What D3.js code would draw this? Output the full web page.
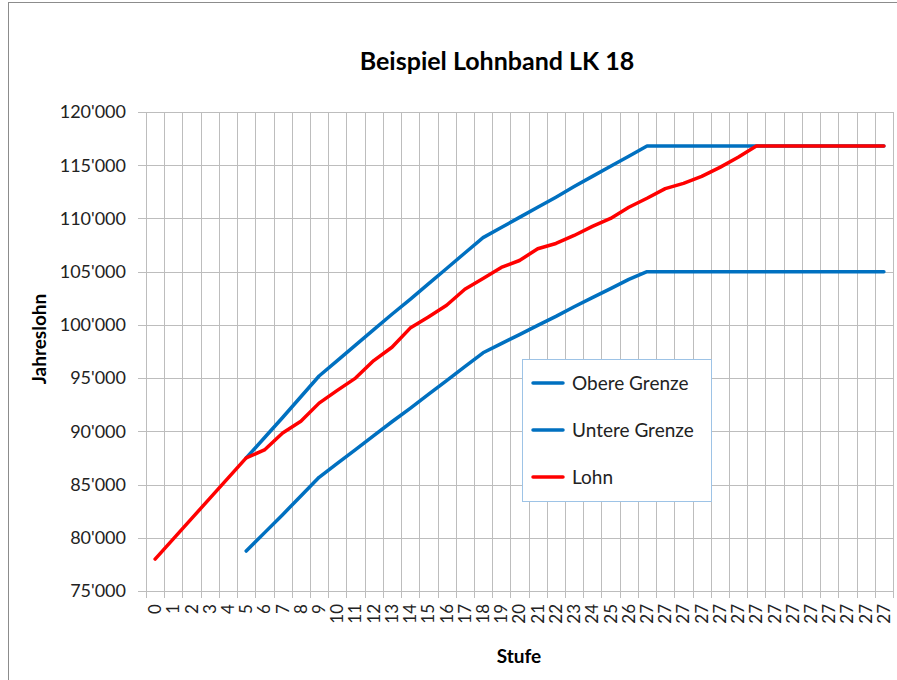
<!DOCTYPE html>
<html lang="de">
<head>
<meta charset="UTF-8">
<title>Beispiel Lohnband LK 18</title>
<script src="https://d3js.org/d3.v7.min.js"></script>
<style>
body { margin: 0; background: #fff; }
svg { display: block; font-family: Lato, "Open Sans", sans-serif; }
.grid line { stroke: #bdbdbd; stroke-width: 1; }
.tick-label { font-size: 18px; fill: #222; }
.x-label { font-size: 17px; fill: #222; }
.axis-title { font-size: 19px; font-weight: bold; fill: #000; }
</style>
</head>
<body>
<script>
// Stufen (Kategorien auf der x-Achse)
const stufen = ["0","1","2","3","4","5","6","7","8","9","10","11","12","13","14","15","16","17","18","19","20",
  "21","22","23","24","25","26","27","27","27","27","27","27","27","27","27","27","27","27","27","27"];

const obereGrenze = [null,null,null,null,null,
  87500,89400,91300,93250,95200,96650,98100,99550,101000,102400,103850,105300,106750,108200,
  109150,110100,111050,112000,113000,113950,114900,115850,116800,
  116800,116800,116800,116800,116800,116800,116800,116800,116800,116800,116800,116800,116800];

const untereGrenze = [null,null,null,null,null,
  78750,80460,82170,83930,85680,86990,88290,89600,90900,92160,93470,94770,96080,97380,
  98240,99090,99950,100800,101700,102560,103410,104270,105000,
  105000,105000,105000,105000,105000,105000,105000,105000,105000,105000,105000,105000,105000];

const lohn = [78000,79900,81800,83700,85600,87500,88250,89850,90950,92650,93850,95000,96650,97900,
  99700,100750,101850,103350,104350,105400,106050,107150,107650,108400,109250,110000,111050,111900,
  112800,113300,113950,114800,115750,116800,116800,116800,116800,116800,116800,116800,116800];

const yTicks = [75000,80000,85000,90000,95000,100000,105000,110000,115000,120000];

const w = 897, h = 680;
const plotLeft = 146, plotRight = 893, plotTop = 112, plotBottom = 591;

const svg = d3.select('body').append('svg').attr('width', w).attr('height', h);

// Rahmen des Diagramms
svg.append('rect').attr('x', 8.5).attr('y', 2.5).attr('width', 900).attr('height', 700)
  .attr('fill', 'none').attr('stroke', '#8c8c8c').attr('stroke-width', 1);

const idx = d3.range(stufen.length);
const xScale = d3.scaleBand().domain(idx).range([plotLeft, plotRight]).padding(0);
const yScale = d3.scaleLinear().domain([75000, 120000]).range([plotBottom, plotTop]);
const bw = xScale.bandwidth();
const cx = i => xScale(i) + bw / 2;

const fmt = d3.formatLocale({decimal: ".", thousands: "'", grouping: [3], currency: ["", ""]}).format(",");

// Gitterlinien
const grid = svg.append('g').attr('class', 'grid');
const bounds = idx.map(i => xScale(i)).concat([plotRight]);
grid.selectAll('.v').data(bounds).enter().append('line')
  .attr('x1', d => Math.round(d) + 0.5).attr('x2', d => Math.round(d) + 0.5)
  .attr('y1', plotTop).attr('y2', plotBottom + 7);
grid.selectAll('.h').data(yTicks).enter().append('line')
  .attr('x1', plotLeft - 8).attr('x2', plotRight)
  .attr('y1', d => Math.round(yScale(d)) + 0.5).attr('y2', d => Math.round(yScale(d)) + 0.5);

// y-Achse Beschriftung
svg.append('g').selectAll('text').data(yTicks).enter().append('text')
  .attr('class', 'tick-label')
  .attr('x', 126).attr('y', d => yScale(d)).attr('dy', '0.35em')
  .attr('text-anchor', 'end').text(d => fmt(d));

// x-Achse Beschriftung
svg.append('g').selectAll('text').data(idx).enter().append('text')
  .attr('class', 'x-label')
  .attr('transform', i => 'translate(' + cx(i) + ',' + 604 + ') rotate(-90)')
  .attr('dy', '0.35em').attr('text-anchor', 'end').text(i => stufen[i]);

// Linien
const line = d3.line().defined(d => d.v != null).x(d => cx(d.i)).y(d => yScale(d.v));
const series = [
  {name: 'Obere Grenze', values: obereGrenze, color: '#0070C0'},
  {name: 'Untere Grenze', values: untereGrenze, color: '#0070C0'},
  {name: 'Lohn', values: lohn, color: '#FF0000'}
];
series.forEach(s => {
  svg.append('path').datum(s.values.map((v, i) => ({i: i, v: v})))
    .attr('d', line).attr('fill', 'none').attr('stroke', s.color)
    .attr('stroke-width', 3.5).attr('stroke-linejoin', 'round').attr('stroke-linecap', 'round');
});

// Titel
svg.append('text').attr('x', 497).attr('y', 70).attr('text-anchor', 'middle')
  .style('font-size', '25px').style('font-weight', 'bold').text('Beispiel Lohnband LK 18');
svg.append('text').attr('class', 'axis-title')
  .attr('transform', 'translate(46,' + 339 + ') rotate(-90)')
  .attr('text-anchor', 'middle').text('Jahreslohn');
svg.append('text').attr('class', 'axis-title').attr('x', 519).attr('y', 663)
  .attr('text-anchor', 'middle').text('Stufe');

// Legende
const legend = svg.append('g');
legend.append('rect').attr('x', 522.5).attr('y', 359.5).attr('width', 189).attr('height', 142)
  .attr('fill', '#fff').attr('stroke', '#9dc3e6').attr('stroke-width', 1);
series.forEach((s, k) => {
  const y = 383 + k * 47;
  legend.append('line').attr('x1', 533).attr('x2', 563).attr('y1', y).attr('y2', y)
    .attr('stroke', s.color).attr('stroke-width', 3.5).attr('stroke-linecap', 'round');
  legend.append('text').attr('x', 572).attr('y', y).attr('dy', '0.35em')
    .style('font-size', '19px').style('fill', '#222').text(s.name);
});
</script>
</body>
</html>
